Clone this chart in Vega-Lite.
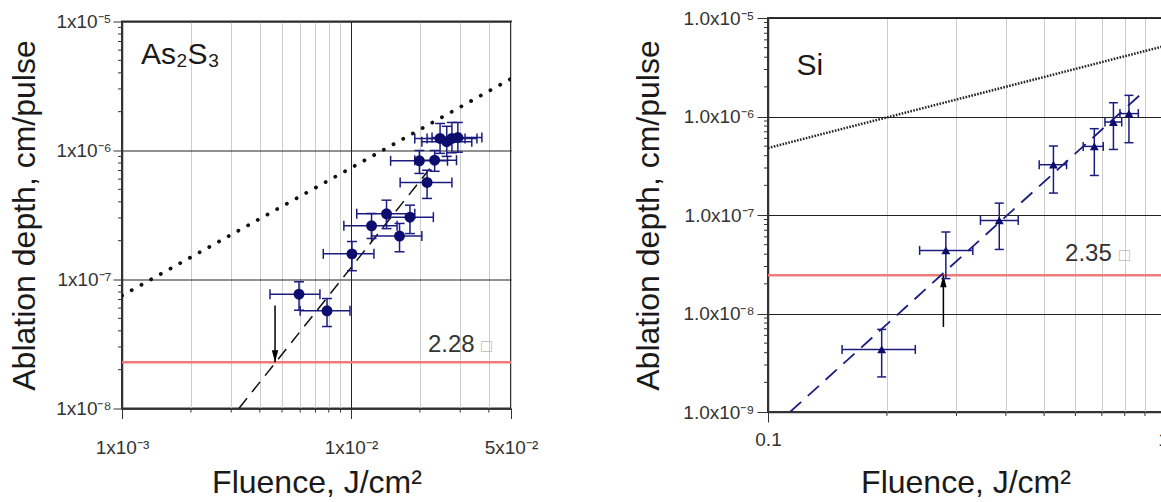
{
  "$schema": "https://vega.github.io/schema/vega-lite/v6.json",
  "background": "white",
  "padding": {"left": 7, "top": 8, "right": 0, "bottom": 0},
  "autosize": {"type": "pad"},
  "bounds": "flush",
  "center": true,
  "spacing": 257,
  "datasets": {
    "as2s3": [
      {"F": 0.00593, "D": 7.69e-8, "Fl": 0.00443, "Fh": 0.00732, "Dl": 5.78e-8, "Dh": 9.6e-8},
      {"F": 0.00786, "D": 5.72e-8, "Fl": 0.0060, "Fh": 0.0099, "Dl": 4.32e-8, "Dh": 7.12e-8},
      {"F": 0.0101, "D": 1.58e-7, "Fl": 0.00757, "Fh": 0.0126, "Dl": 1.17e-7, "Dh": 1.97e-7},
      {"F": 0.0123, "D": 2.61e-7, "Fl": 0.00931, "Fh": 0.0159, "Dl": 2.08e-7, "Dh": 3.25e-7},
      {"F": 0.0143, "D": 3.23e-7, "Fl": 0.0106, "Fh": 0.0190, "Dl": 2.48e-7, "Dh": 4.12e-7},
      {"F": 0.0181, "D": 3.04e-7, "Fl": 0.0143, "Fh": 0.0229, "Dl": 2.27e-7, "Dh": 3.77e-7},
      {"F": 0.0163, "D": 2.17e-7, "Fl": 0.0123, "Fh": 0.0204, "Dl": 1.64e-7, "Dh": 2.72e-7},
      {"F": 0.0199, "D": 8.32e-7, "Fl": 0.0149, "Fh": 0.0264, "Dl": 6.64e-7, "Dh": 1.0e-6},
      {"F": 0.0232, "D": 8.41e-7, "Fl": 0.0190, "Fh": 0.0289, "Dl": 6.9e-7, "Dh": 1.0e-6},
      {"F": 0.0215, "D": 5.65e-7, "Fl": 0.0164, "Fh": 0.0276, "Dl": 4.25e-7, "Dh": 7.03e-7},
      {"F": 0.0245, "D": 1.24e-6, "Fl": 0.0190, "Fh": 0.0315, "Dl": 9.5e-7, "Dh": 1.62e-6},
      {"F": 0.0262, "D": 1.17e-6, "Fl": 0.0204, "Fh": 0.0337, "Dl": 9.0e-7, "Dh": 1.54e-6},
      {"F": 0.0276, "D": 1.24e-6, "Fl": 0.0215, "Fh": 0.0355, "Dl": 9.6e-7, "Dh": 1.65e-6},
      {"F": 0.0293, "D": 1.26e-6, "Fl": 0.0226, "Fh": 0.0373, "Dl": 9.7e-7, "Dh": 1.65e-6}
    ],
    "si": [
      {"F": 0.194, "D": 4.32e-9, "Fl": 0.154, "Fh": 0.236, "Dl": 2.27e-9, "Dh": 6.9e-9},
      {"F": 0.282, "D": 4.37e-8, "Fl": 0.242, "Fh": 0.330, "Dl": 2.26e-8, "Dh": 6.72e-8},
      {"F": 0.385, "D": 8.81e-8, "Fl": 0.345, "Fh": 0.430, "Dl": 4.47e-8, "Dh": 1.32e-7},
      {"F": 0.528, "D": 3.24e-7, "Fl": 0.486, "Fh": 0.570, "Dl": 1.67e-7, "Dh": 5.02e-7},
      {"F": 0.670, "D": 4.97e-7, "Fl": 0.628, "Fh": 0.706, "Dl": 2.52e-7, "Dh": 7.52e-7},
      {"F": 0.749, "D": 8.79e-7, "Fl": 0.713, "Fh": 0.786, "Dl": 4.63e-7, "Dh": 1.38e-6},
      {"F": 0.820, "D": 1.07e-6, "Fl": 0.778, "Fh": 0.866, "Dl": 5.42e-7, "Dh": 1.64e-6}
    ],
    "linesL": [
      {"s": "red", "F": 0.001, "D": 2.28e-8},
      {"s": "red", "F": 0.05, "D": 2.28e-8},
      {"s": "dot", "F": 0.001, "D": 7.5e-8},
      {"s": "dot", "F": 0.05, "D": 3.6e-6},
      {"s": "dash", "F": 0.00324, "D": 1e-8},
      {"s": "dash", "F": 0.0221, "D": 7.24e-7}
    ],
    "linesR": [
      {"s": "red", "F": 0.1, "D": 2.45e-8},
      {"s": "red", "F": 1.0, "D": 2.45e-8},
      {"s": "dot", "F": 0.1, "D": 4.79e-7},
      {"s": "dot", "F": 1.0, "D": 5.15e-6},
      {"s": "dash", "F": 0.1137, "D": 1e-9},
      {"s": "dash", "F": 0.891, "D": 1.77e-6}
    ],
    "arrowL": [{"F": 0.00466, "D0": 6.3e-8, "D1": 2.28e-8}],
    "arrowR": [{"F": 0.278, "D0": 7.3e-9, "D1": 2.45e-8}],
    "textL": [
      {"t": "As₂S₃", "F": 0.00121, "D": 4.72e-6, "k": "name"},
      {"t": "2.28", "F": 0.0217, "D": 2.74e-8, "k": "val"},
      {"t": "□", "F": 0.0370, "D": 2.74e-8, "k": "box"}
    ],
    "textR": [
      {"t": "Si", "F": 0.118, "D": 2.65e-6, "k": "name"},
      {"t": "2.35", "F": 0.565, "D": 3.44e-8, "k": "val"},
      {"t": "□", "F": 0.774, "D": 3.44e-8, "k": "box"}
    ],
    "minorXL": [{"v": 0.002}, {"v": 0.003}, {"v": 0.004}, {"v": 0.005}, {"v": 0.006}, {"v": 0.007}, {"v": 0.008}, {"v": 0.009}, {"v": 0.02}, {"v": 0.03}, {"v": 0.04}],
    "minorYL": [{"v": 2e-8}, {"v": 3e-8}, {"v": 4e-8}, {"v": 5e-8}, {"v": 6e-8}, {"v": 7e-8}, {"v": 8e-8}, {"v": 9e-8}, {"v": 2e-7}, {"v": 3e-7}, {"v": 4e-7}, {"v": 5e-7}, {"v": 6e-7}, {"v": 7e-7}, {"v": 8e-7}, {"v": 9e-7}, {"v": 2e-6}, {"v": 3e-6}, {"v": 4e-6}, {"v": 5e-6}, {"v": 6e-6}, {"v": 7e-6}, {"v": 8e-6}, {"v": 9e-6}],
    "minorXR": [{"v": 0.2}, {"v": 0.3}, {"v": 0.4}, {"v": 0.5}, {"v": 0.6}, {"v": 0.7}, {"v": 0.8}, {"v": 0.9}],
    "minorYR": [{"v": 2e-9}, {"v": 3e-9}, {"v": 4e-9}, {"v": 5e-9}, {"v": 6e-9}, {"v": 7e-9}, {"v": 8e-9}, {"v": 9e-9}, {"v": 2e-8}, {"v": 3e-8}, {"v": 4e-8}, {"v": 5e-8}, {"v": 6e-8}, {"v": 7e-8}, {"v": 8e-8}, {"v": 9e-8}, {"v": 2e-7}, {"v": 3e-7}, {"v": 4e-7}, {"v": 5e-7}, {"v": 6e-7}, {"v": 7e-7}, {"v": 8e-7}, {"v": 9e-7}, {"v": 2e-6}, {"v": 3e-6}, {"v": 4e-6}, {"v": 5e-6}, {"v": 6e-6}, {"v": 7e-6}, {"v": 8e-6}, {"v": 9e-6}]
  },
  "hconcat": [
    {
      "width": 389,
      "height": 387,
      "layer": [
        {
          "data": {"name": "linesL"},
          "transform": [{"filter": "datum.s == 'red'"}],
          "mark": {"type": "line", "color": "#f07a7a", "strokeWidth": 2.5, "clip": true},
          "encoding": {
            "x": {"field": "F", "type": "quantitative", "scale": {"type": "log", "domain": [0.001, 0.05], "nice": false},
              "axis": {
                "values": [0.001, 0.002, 0.003, 0.004, 0.005, 0.006, 0.007, 0.008, 0.009, 0.01, 0.02, 0.03, 0.04, 0.05],
                "labelExpr": "datum.value == 0.001 ? '1x10⁻³' : datum.value == 0.01 ? '1x10⁻²' : datum.value == 0.05 ? '5x10⁻²' : ''",
                "grid": true,
                "gridColor": {"condition": {"test": "datum.value == 0.01", "value": "#222222"}, "value": "#cccccc"},
                "tickOpacity": {"condition": {"test": "datum.value == 0.001 || datum.value == 0.01 || datum.value == 0.05", "value": 1}, "value": 0},
                "tickSize": 10,
                "labelPadding": 20,
                "title": "Fluence, J/cm²",
                "titlePadding": 10
              }},
            "y": {"field": "D", "type": "quantitative", "scale": {"type": "log", "domain": [1e-8, 1e-5], "nice": false},
              "axis": {
                "values": [1e-8, 2e-8, 3e-8, 4e-8, 5e-8, 6e-8, 7e-8, 8e-8, 9e-8, 1e-7, 2e-7, 3e-7, 4e-7, 5e-7, 6e-7, 7e-7, 8e-7, 9e-7, 1e-6, 2e-6, 3e-6, 4e-6, 5e-6, 6e-6, 7e-6, 8e-6, 9e-6, 1e-5],
                "labelExpr": "datum.value == 1e-5 ? '1x10⁻⁵' : datum.value == 1e-6 ? '1x10⁻⁶' : datum.value == 1e-7 ? '1x10⁻⁷' : datum.value == 1e-8 ? '1x10⁻⁸' : ''",
                "grid": true,
                "gridColor": "#222222",
                "gridOpacity": {"condition": {"test": "datum.value == 1e-5 || datum.value == 1e-6 || datum.value == 1e-7 || datum.value == 1e-8", "value": 1}, "value": 0},
                "tickOpacity": {"condition": {"test": "datum.value == 1e-5 || datum.value == 1e-6 || datum.value == 1e-7 || datum.value == 1e-8", "value": 1}, "value": 0},
                "tickSize": 9,
                "labelPadding": 2,
                "title": "Ablation depth, cm/pulse",
                "titlePadding": 14
              }}
          }
        },
        {
          "data": {"name": "minorXL"},
          "mark": {"type": "tick", "orient": "vertical", "color": "#333333", "size": 4, "thickness": 1, "yOffset": 2, "opacity": 1},
          "encoding": {
            "x": {"field": "v", "type": "quantitative", "scale": {"type": "log", "domain": [0.001, 0.05], "nice": false}},
            "y": {"datum": 1e-8, "type": "quantitative", "scale": {"type": "log", "domain": [1e-8, 1e-5], "nice": false}}
          }
        },
        {
          "data": {"name": "minorYL"},
          "mark": {"type": "tick", "orient": "horizontal", "color": "#333333", "size": 4, "thickness": 1, "xOffset": -2, "opacity": 1},
          "encoding": {
            "x": {"datum": 0.001, "type": "quantitative", "scale": {"type": "log", "domain": [0.001, 0.05], "nice": false}},
            "y": {"field": "v", "type": "quantitative", "scale": {"type": "log", "domain": [1e-8, 1e-5], "nice": false}}
          }
        },
        {
          "data": {"name": "linesL"},
          "transform": [{"filter": "datum.s == 'dot'"}],
          "mark": {"type": "line", "color": "#111111", "strokeWidth": 3.8, "strokeCap": "round", "strokeDash": [0.1, 11], "clip": true},
          "encoding": {
            "x": {"field": "F", "type": "quantitative", "scale": {"type": "log", "domain": [0.001, 0.05], "nice": false}},
            "y": {"field": "D", "type": "quantitative", "scale": {"type": "log", "domain": [1e-8, 1e-5], "nice": false}}
          }
        },
        {
          "data": {"name": "linesL"},
          "transform": [{"filter": "datum.s == 'dash'"}],
          "mark": {"type": "line", "color": "#111111", "strokeWidth": 1.5, "strokeDash": [13, 8], "clip": true},
          "encoding": {
            "x": {"field": "F", "type": "quantitative", "scale": {"type": "log", "domain": [0.001, 0.05], "nice": false}},
            "y": {"field": "D", "type": "quantitative", "scale": {"type": "log", "domain": [1e-8, 1e-5], "nice": false}}
          }
        },
        {
          "data": {"name": "arrowL"},
          "mark": {"type": "rule", "color": "#000000", "strokeWidth": 1.5},
          "encoding": {
            "x": {"field": "F", "type": "quantitative", "scale": {"type": "log", "domain": [0.001, 0.05], "nice": false}},
            "y": {"field": "D0", "type": "quantitative", "scale": {"type": "log", "domain": [1e-8, 1e-5], "nice": false}},
            "y2": {"field": "D1"}
          }
        },
        {
          "data": {"name": "arrowL"},
          "mark": {"type": "point", "shape": "M0,0L-0.8,-3L0.8,-3Z", "filled": true, "color": "#000000", "opacity": 1, "size": 64},
          "encoding": {
            "x": {"field": "F", "type": "quantitative", "scale": {"type": "log", "domain": [0.001, 0.05], "nice": false}},
            "y": {"field": "D1", "type": "quantitative", "scale": {"type": "log", "domain": [1e-8, 1e-5], "nice": false}}
          }
        },
        {
          "data": {"name": "as2s3"},
          "mark": {"type": "rule", "color": "#1c1c80", "strokeWidth": 1.5},
          "encoding": {
            "x": {"field": "Fl", "type": "quantitative", "scale": {"type": "log", "domain": [0.001, 0.05], "nice": false}},
            "x2": {"field": "Fh"},
            "y": {"field": "D", "type": "quantitative", "scale": {"type": "log", "domain": [1e-8, 1e-5], "nice": false}}
          }
        },
        {
          "data": {"name": "as2s3"},
          "mark": {"type": "rule", "color": "#1c1c80", "strokeWidth": 1.5},
          "encoding": {
            "x": {"field": "F", "type": "quantitative", "scale": {"type": "log", "domain": [0.001, 0.05], "nice": false}},
            "y": {"field": "Dl", "type": "quantitative", "scale": {"type": "log", "domain": [1e-8, 1e-5], "nice": false}},
            "y2": {"field": "Dh"}
          }
        },
        {
          "data": {"name": "as2s3"},
          "mark": {"type": "tick", "orient": "vertical", "color": "#1c1c80", "size": 10, "thickness": 1.5, "opacity": 1},
          "encoding": {
            "x": {"field": "Fl", "type": "quantitative", "scale": {"type": "log", "domain": [0.001, 0.05], "nice": false}},
            "y": {"field": "D", "type": "quantitative", "scale": {"type": "log", "domain": [1e-8, 1e-5], "nice": false}}
          }
        },
        {
          "data": {"name": "as2s3"},
          "mark": {"type": "tick", "orient": "vertical", "color": "#1c1c80", "size": 10, "thickness": 1.5, "opacity": 1},
          "encoding": {
            "x": {"field": "Fh", "type": "quantitative", "scale": {"type": "log", "domain": [0.001, 0.05], "nice": false}},
            "y": {"field": "D", "type": "quantitative", "scale": {"type": "log", "domain": [1e-8, 1e-5], "nice": false}}
          }
        },
        {
          "data": {"name": "as2s3"},
          "mark": {"type": "tick", "orient": "horizontal", "color": "#1c1c80", "size": 10, "thickness": 1.5, "opacity": 1},
          "encoding": {
            "x": {"field": "F", "type": "quantitative", "scale": {"type": "log", "domain": [0.001, 0.05], "nice": false}},
            "y": {"field": "Dl", "type": "quantitative", "scale": {"type": "log", "domain": [1e-8, 1e-5], "nice": false}}
          }
        },
        {
          "data": {"name": "as2s3"},
          "mark": {"type": "tick", "orient": "horizontal", "color": "#1c1c80", "size": 10, "thickness": 1.5, "opacity": 1},
          "encoding": {
            "x": {"field": "F", "type": "quantitative", "scale": {"type": "log", "domain": [0.001, 0.05], "nice": false}},
            "y": {"field": "Dh", "type": "quantitative", "scale": {"type": "log", "domain": [1e-8, 1e-5], "nice": false}}
          }
        },
        {
          "data": {"name": "as2s3"},
          "mark": {"type": "point", "shape": "circle", "filled": true, "color": "#0d0d6e", "opacity": 1, "size": 120},
          "encoding": {
            "x": {"field": "F", "type": "quantitative", "scale": {"type": "log", "domain": [0.001, 0.05], "nice": false}},
            "y": {"field": "D", "type": "quantitative", "scale": {"type": "log", "domain": [1e-8, 1e-5], "nice": false}}
          }
        },
        {
          "data": {"name": "textL"},
          "mark": {"type": "text", "align": "left", "baseline": "alphabetic"},
          "encoding": {
            "x": {"field": "F", "type": "quantitative", "scale": {"type": "log", "domain": [0.001, 0.05], "nice": false}},
            "y": {"field": "D", "type": "quantitative", "scale": {"type": "log", "domain": [1e-8, 1e-5], "nice": false}},
            "text": {"field": "t"},
            "size": {"field": "k", "type": "nominal", "scale": {"domain": ["name", "val", "box"], "range": [30, 18, 18]}, "legend": null},
            "color": {"field": "k", "type": "nominal", "scale": {"domain": ["name", "val", "box"], "range": ["#1a1a1a", "#333333", "#bbbbbb"]}, "legend": null}
          }
        }
      ]
    },
    {
      "width": 395,
      "height": 394,
      "layer": [
        {
          "data": {"name": "linesR"},
          "transform": [{"filter": "datum.s == 'red'"}],
          "mark": {"type": "line", "color": "#f07a7a", "strokeWidth": 2.5, "clip": true},
          "encoding": {
            "x": {"field": "F", "type": "quantitative", "scale": {"type": "log", "domain": [0.1, 1], "nice": false},
              "axis": {
                "values": [0.1, 0.2, 0.3, 0.4, 0.5, 0.6, 0.7, 0.8, 0.9, 1],
                "labelExpr": "datum.value == 0.1 ? '0.1' : datum.value == 1 ? '1' : ''",
                "grid": true,
                "gridColor": "#cccccc",
                "tickOpacity": {"condition": {"test": "datum.value == 0.1 || datum.value == 1", "value": 1}, "value": 0},
                "tickSize": 10,
                "labelPadding": 8,
                "title": "Fluence, J/cm²",
                "titlePadding": 18
              }},
            "y": {"field": "D", "type": "quantitative", "scale": {"type": "log", "domain": [1e-9, 1e-5], "nice": false},
              "axis": {
                "values": [1e-9, 2e-9, 3e-9, 4e-9, 5e-9, 6e-9, 7e-9, 8e-9, 9e-9, 1e-8, 2e-8, 3e-8, 4e-8, 5e-8, 6e-8, 7e-8, 8e-8, 9e-8, 1e-7, 2e-7, 3e-7, 4e-7, 5e-7, 6e-7, 7e-7, 8e-7, 9e-7, 1e-6, 2e-6, 3e-6, 4e-6, 5e-6, 6e-6, 7e-6, 8e-6, 9e-6, 1e-5],
                "labelExpr": "datum.value == 1e-5 ? '1.0x10⁻⁵' : datum.value == 1e-6 ? '1.0x10⁻⁶' : datum.value == 1e-7 ? '1.0x10⁻⁷' : datum.value == 1e-8 ? '1.0x10⁻⁸' : datum.value == 1e-9 ? '1.0x10⁻⁹' : ''",
                "grid": true,
                "gridColor": "#222222",
                "gridOpacity": {"condition": {"test": "datum.value == 1e-5 || datum.value == 1e-6 || datum.value == 1e-7 || datum.value == 1e-8 || datum.value == 1e-9", "value": 1}, "value": 0},
                "tickOpacity": {"condition": {"test": "datum.value == 1e-5 || datum.value == 1e-6 || datum.value == 1e-7 || datum.value == 1e-8 || datum.value == 1e-9", "value": 1}, "value": 0},
                "tickSize": 11,
                "labelPadding": 3,
                "title": "Ablation depth, cm/pulse",
                "titlePadding": 17
              }}
          }
        },
        {
          "data": {"name": "minorXR"},
          "mark": {"type": "tick", "orient": "vertical", "color": "#333333", "size": 4, "thickness": 1, "yOffset": 2, "opacity": 1},
          "encoding": {
            "x": {"field": "v", "type": "quantitative", "scale": {"type": "log", "domain": [0.1, 1], "nice": false}},
            "y": {"datum": 1e-9, "type": "quantitative", "scale": {"type": "log", "domain": [1e-9, 1e-5], "nice": false}}
          }
        },
        {
          "data": {"name": "minorYR"},
          "mark": {"type": "tick", "orient": "horizontal", "color": "#333333", "size": 4, "thickness": 1, "xOffset": -2, "opacity": 1},
          "encoding": {
            "x": {"datum": 0.1, "type": "quantitative", "scale": {"type": "log", "domain": [0.1, 1], "nice": false}},
            "y": {"field": "v", "type": "quantitative", "scale": {"type": "log", "domain": [1e-9, 1e-5], "nice": false}}
          }
        },
        {
          "data": {"name": "linesR"},
          "transform": [{"filter": "datum.s == 'dot'"}],
          "mark": {"type": "line", "color": "#222222", "strokeWidth": 2.5, "strokeDash": [1.6, 1.4], "clip": true},
          "encoding": {
            "x": {"field": "F", "type": "quantitative", "scale": {"type": "log", "domain": [0.1, 1], "nice": false}},
            "y": {"field": "D", "type": "quantitative", "scale": {"type": "log", "domain": [1e-9, 1e-5], "nice": false}}
          }
        },
        {
          "data": {"name": "linesR"},
          "transform": [{"filter": "datum.s == 'dash'"}],
          "mark": {"type": "line", "color": "#1c1c80", "strokeWidth": 1.8, "strokeDash": [15, 9], "clip": true},
          "encoding": {
            "x": {"field": "F", "type": "quantitative", "scale": {"type": "log", "domain": [0.1, 1], "nice": false}},
            "y": {"field": "D", "type": "quantitative", "scale": {"type": "log", "domain": [1e-9, 1e-5], "nice": false}}
          }
        },
        {
          "data": {"name": "arrowR"},
          "mark": {"type": "rule", "color": "#000000", "strokeWidth": 1.5},
          "encoding": {
            "x": {"field": "F", "type": "quantitative", "scale": {"type": "log", "domain": [0.1, 1], "nice": false}},
            "y": {"field": "D0", "type": "quantitative", "scale": {"type": "log", "domain": [1e-9, 1e-5], "nice": false}},
            "y2": {"field": "D1"}
          }
        },
        {
          "data": {"name": "arrowR"},
          "mark": {"type": "point", "shape": "M0,0L-0.8,3L0.8,3Z", "filled": true, "color": "#000000", "opacity": 1, "size": 64},
          "encoding": {
            "x": {"field": "F", "type": "quantitative", "scale": {"type": "log", "domain": [0.1, 1], "nice": false}},
            "y": {"field": "D1", "type": "quantitative", "scale": {"type": "log", "domain": [1e-9, 1e-5], "nice": false}}
          }
        },
        {
          "data": {"name": "si"},
          "mark": {"type": "rule", "color": "#1c1c80", "strokeWidth": 1.5},
          "encoding": {
            "x": {"field": "Fl", "type": "quantitative", "scale": {"type": "log", "domain": [0.1, 1], "nice": false}},
            "x2": {"field": "Fh"},
            "y": {"field": "D", "type": "quantitative", "scale": {"type": "log", "domain": [1e-9, 1e-5], "nice": false}}
          }
        },
        {
          "data": {"name": "si"},
          "mark": {"type": "rule", "color": "#1c1c80", "strokeWidth": 1.5},
          "encoding": {
            "x": {"field": "F", "type": "quantitative", "scale": {"type": "log", "domain": [0.1, 1], "nice": false}},
            "y": {"field": "Dl", "type": "quantitative", "scale": {"type": "log", "domain": [1e-9, 1e-5], "nice": false}},
            "y2": {"field": "Dh"}
          }
        },
        {
          "data": {"name": "si"},
          "mark": {"type": "tick", "orient": "vertical", "color": "#1c1c80", "size": 9, "thickness": 1.5, "opacity": 1},
          "encoding": {
            "x": {"field": "Fl", "type": "quantitative", "scale": {"type": "log", "domain": [0.1, 1], "nice": false}},
            "y": {"field": "D", "type": "quantitative", "scale": {"type": "log", "domain": [1e-9, 1e-5], "nice": false}}
          }
        },
        {
          "data": {"name": "si"},
          "mark": {"type": "tick", "orient": "vertical", "color": "#1c1c80", "size": 9, "thickness": 1.5, "opacity": 1},
          "encoding": {
            "x": {"field": "Fh", "type": "quantitative", "scale": {"type": "log", "domain": [0.1, 1], "nice": false}},
            "y": {"field": "D", "type": "quantitative", "scale": {"type": "log", "domain": [1e-9, 1e-5], "nice": false}}
          }
        },
        {
          "data": {"name": "si"},
          "mark": {"type": "tick", "orient": "horizontal", "color": "#1c1c80", "size": 9, "thickness": 1.5, "opacity": 1},
          "encoding": {
            "x": {"field": "F", "type": "quantitative", "scale": {"type": "log", "domain": [0.1, 1], "nice": false}},
            "y": {"field": "Dl", "type": "quantitative", "scale": {"type": "log", "domain": [1e-9, 1e-5], "nice": false}}
          }
        },
        {
          "data": {"name": "si"},
          "mark": {"type": "tick", "orient": "horizontal", "color": "#1c1c80", "size": 9, "thickness": 1.5, "opacity": 1},
          "encoding": {
            "x": {"field": "F", "type": "quantitative", "scale": {"type": "log", "domain": [0.1, 1], "nice": false}},
            "y": {"field": "Dh", "type": "quantitative", "scale": {"type": "log", "domain": [1e-9, 1e-5], "nice": false}}
          }
        },
        {
          "data": {"name": "si"},
          "mark": {"type": "point", "shape": "triangle-up", "filled": true, "color": "#0d0d6e", "opacity": 1, "size": 80},
          "encoding": {
            "x": {"field": "F", "type": "quantitative", "scale": {"type": "log", "domain": [0.1, 1], "nice": false}},
            "y": {"field": "D", "type": "quantitative", "scale": {"type": "log", "domain": [1e-9, 1e-5], "nice": false}}
          }
        },
        {
          "data": {"name": "textR"},
          "mark": {"type": "text", "align": "left", "baseline": "alphabetic"},
          "encoding": {
            "x": {"field": "F", "type": "quantitative", "scale": {"type": "log", "domain": [0.1, 1], "nice": false}},
            "y": {"field": "D", "type": "quantitative", "scale": {"type": "log", "domain": [1e-9, 1e-5], "nice": false}},
            "text": {"field": "t"},
            "size": {"field": "k", "type": "nominal", "scale": {"domain": ["name", "val", "box"], "range": [28, 18, 18]}, "legend": null},
            "color": {"field": "k", "type": "nominal", "scale": {"domain": ["name", "val", "box"], "range": ["#1a1a1a", "#333333", "#bbbbbb"]}, "legend": null}
          }
        }
      ]
    }
  ],
  "config": {
    "font": "Liberation Sans",
    "view": {"stroke": "#333333", "strokeWidth": 2},
    "axis": {
      "domainColor": "#333333",
      "domainWidth": 1.5,
      "tickColor": "#333333",
      "tickWidth": 1,
      "labelColor": "#333333",
      "labelFont": "Liberation Sans",
      "labelFontSize": 19,
      "labelOverlap": false,
      "labelFlush": false,
      "titleFont": "Liberation Sans",
      "titleFontSize": 32,
      "titleFontWeight": "normal",
      "titleColor": "#1a1a1a",
      "gridWidth": 1
    }
  }
}
